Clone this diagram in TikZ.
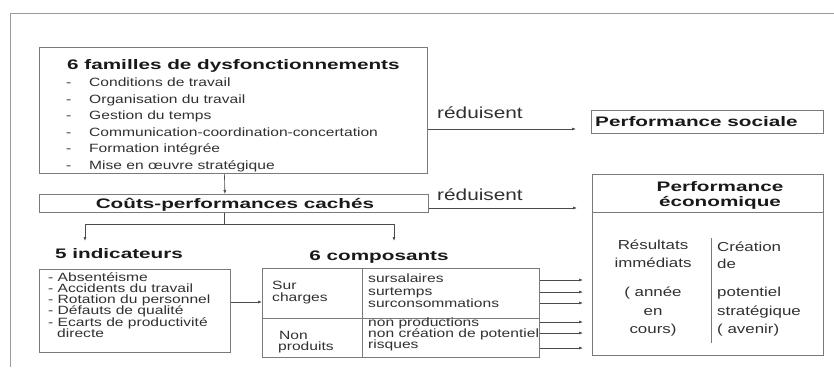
\documentclass[tikz,border=0pt]{standalone}
\usepackage{fontspec}
\setmainfont{Liberation Sans}[FakeStretch=1.3]
\newfontfamily\titrefont{Liberation Sans}[FakeStretch=1.5]
\usepackage{xcolor}
\usetikzlibrary{positioning, calc, arrows.meta}

\definecolor{framegray}{HTML}{9A9A9A}
\definecolor{boxgray}{HTML}{7A7A7A}
\definecolor{linegray}{HTML}{4A4A4A}
\definecolor{txtgray}{HTML}{303030}

\tikzset{
  box/.style={draw=boxgray, line width=0.8pt},
  conn/.style={draw=linegray, line width=0.6pt, -{Latex[length=4pt, width=3pt]}},
  titre/.style={font=\titrefont\fontsize{13.8}{13.8}\selectfont\bfseries, inner sep=0pt, text=black!90},
  texte/.style={font=\fontsize{12}{12}\selectfont, inner sep=0pt, text=txtgray, anchor=base west},
  ecotxt/.style={font=\fontsize{13}{13}\selectfont, inner sep=0pt, text=txtgray},
}

\begin{document}
\begin{tikzpicture}[x=1pt, y=-1pt]
\useasboundingbox (0,0) rectangle (834,367);
\draw[framegray, line width=0.8pt] (834,13) -- (10,13) -- (10,367);

% dysfonctionnements
\node[box, anchor=north west, minimum width=388pt, minimum height=126pt] (familles) at (39,47) {};
\node[titre, anchor=base west] (familles-titre) at (67,69) {6 familles de dysfonctionnements};
\foreach \t [count=\i] in {Conditions de travail, Organisation du travail, Gestion du temps,
    Communication-coordination-concertation, Formation intégrée, Mise en œuvre stratégique} {
  \node[texte] (tiret\i) at (66,{86.5+16.6*(\i-1)}) {-};
  \node[texte] (famille\i) at (89,{86.5+16.6*(\i-1)}) {\t};
}

\node[box, anchor=north west, minimum width=389pt, minimum height=18pt] (couts) at (39,194) {};
\node[titre, anchor=base] (couts-titre) at (235,208) {Coûts-performances cachés};
\draw[conn] ([xshift=-9pt]familles.south) -- ([xshift=-9pt]couts.north);

% performances
\node[box, anchor=north west, minimum width=232pt, minimum height=23pt] (sociale) at (591,110) {};
\node[titre, anchor=base west] (sociale-titre) at (595,126) {Performance sociale};

\node[box, anchor=north west, minimum width=231pt, minimum height=181pt] (eco) at (592,174) {};
\node[titre, anchor=base] (eco-titre1) at (720,191) {Performance};
\node[titre, anchor=base] (eco-titre2) at (720,206) {économique};
\draw[box] (eco.west |- 0,212) -- (eco.east |- 0,212);
\draw[box] (711,238) -- (711,343);
\node[ecotxt, anchor=base] (res1) at (653,249) {Résultats};
\node[ecotxt, anchor=base] (res2) at (653,267) {immédiats};
\node[ecotxt, anchor=base] (res3) at (653,296) {( année};
\node[ecotxt, anchor=base] (res4) at (653,315) {en};
\node[ecotxt, anchor=base] (res5) at (653,333) {cours)};
\node[ecotxt, anchor=base west] (crea1) at (717,251) {Création};
\node[ecotxt, anchor=base west] (crea2) at (717,268) {de};
\node[ecotxt, anchor=base west] (crea3) at (717,296) {potentiel};
\node[ecotxt, anchor=base west] (crea4) at (717,315) {stratégique};
\node[ecotxt, anchor=base west] (crea5) at (717,333) {( avenir)};

\coordinate (pointe1) at (576,129);
\coordinate (pointe2) at (577,208);
\draw[conn] (familles.east |- pointe1) -- (pointe1);
\draw[conn] (couts.east |- pointe2) -- (pointe2);
\node[ecotxt, font=\fontsize{16}{16}\selectfont, anchor=base west] (reduit1) at (437,118) {réduisent};
\node[ecotxt, font=\fontsize{16}{16}\selectfont, anchor=base west] (reduit2) at (437,200) {réduisent};

% indicateurs et composants
\coordinate (fourche) at (224,224);
\coordinate (bras-g) at (85,241);
\coordinate (bras-d) at (394,241);
\draw[draw=linegray, line width=0.6pt] (couts.south -| fourche) -- (fourche);
\draw[conn] (fourche) -| (bras-g);
\draw[conn] (fourche) -| (bras-d);

\node[titre, anchor=base west] (indic-titre) at (55,258) {5 indicateurs};
\node[titre, anchor=base] (comp-titre) at (379,260) {6 composants};

\node[box, anchor=north west, minimum width=191pt, minimum height=83pt] (indic) at (39,269) {};
\foreach \t [count=\i] in {- Absentéisme, - Accidents du travail, - Rotation du personnel,
    - Défauts de qualité, - Ecarts de productivité} {
  \node[texte] (indic\i) at (48,{281+11.3*(\i-1)}) {\t};
}
\node[texte] (indic6) at (57,337.5) {directe};

\node[box, anchor=north west, minimum width=277pt, minimum height=89pt] (comp) at (262,268) {};
\coordinate (sep) at (362,318);
\draw[box] (comp.north -| sep) -- (comp.south -| sep);
\draw[box] (comp.west |- sep) -- (comp.east |- sep);
\node[texte] (sur1) at (272,289) {Sur};
\node[texte] (sur2) at (272,301) {charges};
\node[texte] (non1) at (279,339) {Non};
\node[texte] (non2) at (278,350) {produits};
\foreach \t/\y [count=\i] in {sursalaires/282, surtemps/295, surconsommations/307,
    non productions/326.5, non création de potentiel/337, risques/348.5} {
  \node[texte] (compo\i) at (368,\y) {\t};
}

\coordinate (liaison) at (0,302);
\draw[conn] (indic.east |- liaison) -- (comp.west |- liaison);
\coordinate (cible) at (583,0);
\foreach \y in {280,292,303,322,333,348}
  \draw[conn] (comp.east |- 0,\y) -- (cible |- 0,\y);
\end{tikzpicture}
\end{document}
